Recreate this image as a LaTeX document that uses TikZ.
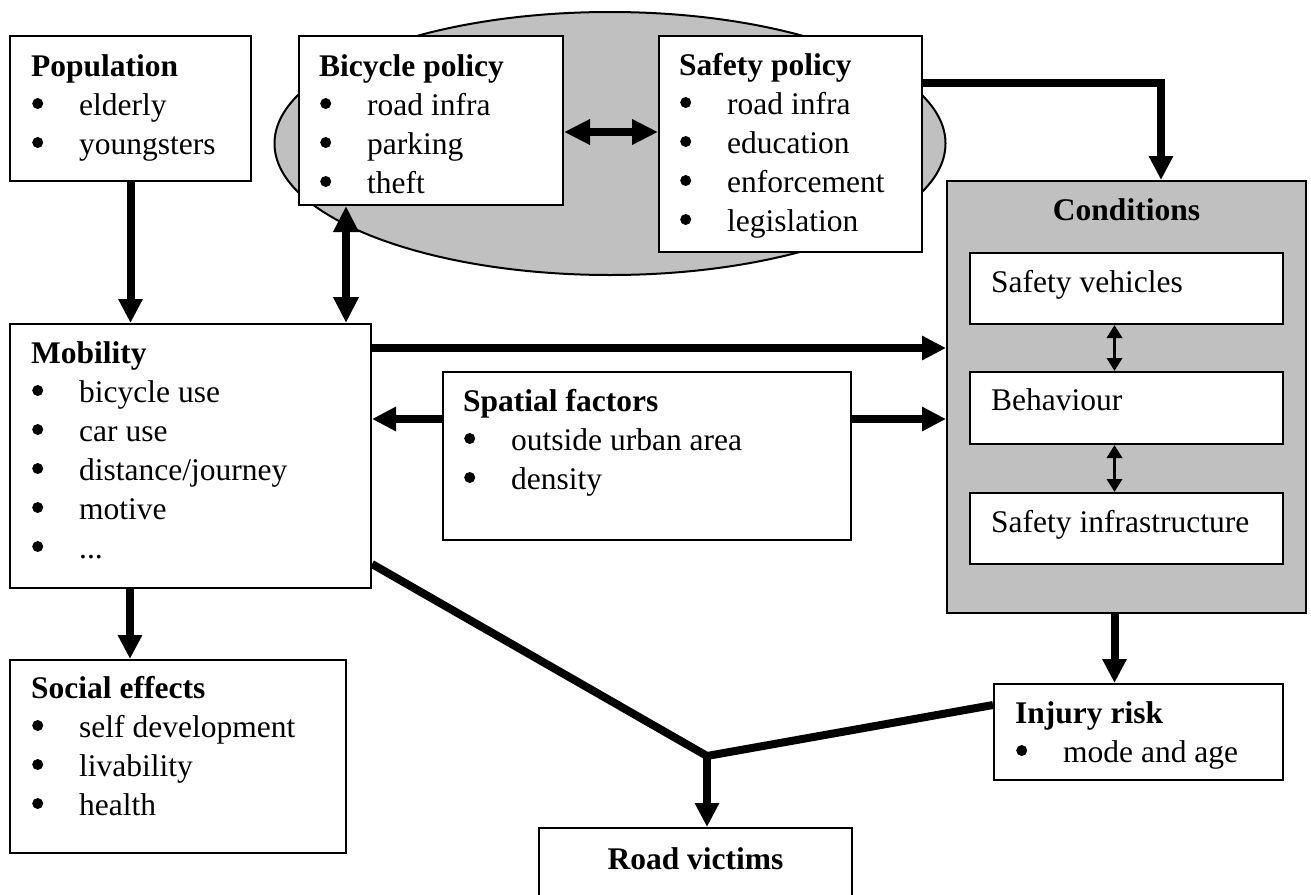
\documentclass[tikz,border=0pt]{standalone}
\usepackage{fontspec}
\setmainfont{Liberation Serif}
\usetikzlibrary{arrows.meta,shapes.geometric,calc}
\definecolor{grayc}{RGB}{192,192,192}
\newsavebox{\bulbox}
\newcommand{\bl}{\hspace*{1pt}\makebox[47pt][l]{\raisebox{6pt}{\usebox{\bulbox}}}}
\begin{document}
\sbox{\bulbox}{\begin{pgfpicture}\pgfpathcircle{\pgfpointorigin}{5.5pt}\pgfusepath{fill}\end{pgfpicture}}%
\begin{tikzpicture}[x=1pt,y=-1pt,
  font=\fontsize{31.5}{39}\selectfont,
  box/.style={draw, line width=2pt, fill=white, inner sep=0pt, anchor=north west},
  txt/.style={anchor=base west, inner sep=0pt},
  arr/.style={line width=8pt, -{Triangle[width=23pt,length=24pt]}},
  darr/.style={line width=8pt, {Triangle[width=24pt,length=26pt]}-{Triangle[width=24pt,length=26pt]}},
  sarr/.style={line width=3.5pt, {Triangle[width=15pt,length=13pt]}-{Triangle[width=15pt,length=13pt]}},
  ln/.style={line width=8pt}]
\useasboundingbox (0,0) rectangle (1311,894);
\fill[white] (0,0) rectangle (1311,894);

% policy ellipse
\node[ellipse, draw, line width=2pt, fill=grayc, inner sep=0pt, minimum width=671pt, minimum height=263pt] (ell) at (610,143.5) {};

% boxes
\node[box, minimum width=241pt, minimum height=145pt] (pop) at (9,35) {};
\node[box, minimum width=264pt, minimum height=169pt] (bic) at (298,35) {};
\node[box, minimum width=263pt, minimum height=216pt] (saf) at (658,35) {};
\node[box, fill=grayc, minimum width=359pt, minimum height=432pt] (cond) at (946,180) {};
\node[box, minimum width=313pt, minimum height=71pt] (sv) at (969,252) {};
\node[box, minimum width=313pt, minimum height=72pt] (beh) at (969,371) {};
\node[box, minimum width=313pt, minimum height=71pt] (si) at (969,492) {};
\node[box, minimum width=361pt, minimum height=264pt] (mob) at (9,323) {};
\node[box, minimum width=408pt, minimum height=168pt] (spa) at (442,371) {};
\node[box, minimum width=336pt, minimum height=193pt] (soc) at (9,659) {};
\node[box, minimum width=289pt, minimum height=96pt] (inj) at (993,683) {};
\node[box, minimum width=313pt, minimum height=85pt] (rv) at (538,827) {};

% texts
\node[txt] (poptx) at ([shift={(22,41)}]pop.north west) {\begin{tabular}[t]{@{}l@{}}\textbf{Population}\\ \bl elderly\\ \bl youngsters\end{tabular}};
\node[txt] (bictx) at ([shift={(21,41)}]bic.north west) {\begin{tabular}[t]{@{}l@{}}\textbf{Bicycle policy}\\ \bl road infra\\ \bl parking\\ \bl theft\end{tabular}};
\node[txt] (saftx) at ([shift={(21,40)}]saf.north west) {\begin{tabular}[t]{@{}l@{}}\textbf{Safety policy}\\ \bl road infra\\ \bl education\\ \bl enforcement\\ \bl legislation\end{tabular}};
\node[anchor=base, inner sep=0pt] (condtx) at ([yshift=-40pt]cond.north) {\textbf{Conditions}};
\node[txt] (svtx) at ([shift={(22,40)}]sv.north west) {Safety vehicles};
\node[txt] (behtx) at ([shift={(22,39)}]beh.north west) {Behaviour};
\node[txt] (sitx) at ([shift={(22,40)}]si.north west) {Safety infrastructure};
\node[txt] (mobtx) at ([shift={(22,40)}]mob.north west) {\begin{tabular}[t]{@{}l@{}}\textbf{Mobility}\\ \bl bicycle use\\ \bl car use\\ \bl distance/journey\\ \bl motive\\ \bl ...\end{tabular}};
\node[txt] (spatx) at ([shift={(21,40)}]spa.north west) {\begin{tabular}[t]{@{}l@{}}\textbf{Spatial factors}\\ \bl outside urban area\\ \bl density\end{tabular}};
\node[txt] (soctx) at ([shift={(22,39)}]soc.north west) {\begin{tabular}[t]{@{}l@{}}\textbf{Social effects}\\ \bl self development\\ \bl livability\\ \bl health\end{tabular}};
\node[txt] (injtx) at ([shift={(22,40)}]inj.north west) {\begin{tabular}[t]{@{}l@{}}\textbf{Injury risk}\\ \bl mode and age\end{tabular}};
\node[anchor=base, inner sep=0pt] (rvtx) at ([yshift=-42pt]rv.north) {\textbf{Road victims}};

% connectors
\draw[arr] (pop.south) -- (pop.south |- mob.north);
\draw[darr] ([xshift=48pt]bic.south west) -- ([xshift=48pt]bic.south west |- mob.north);
\draw[darr] ([yshift=-97pt]bic.north east) -- ([yshift=-97pt]bic.north east -| saf.west);
\draw[arr, line join=miter] ([yshift=-48pt]saf.north east) -| ([xshift=215pt]cond.north west);
\draw[arr] ([yshift=-25pt]mob.north east) -- ([yshift=-25pt]mob.north east -| cond.west);
\draw[arr] ([yshift=-48pt]spa.north west) -- ([yshift=-48pt]spa.north west -| mob.east);
\draw[arr] ([yshift=-48pt]spa.north east) -- ([yshift=-48pt]spa.north east -| cond.west);
\draw[sarr] ([xshift=-12pt]sv.south) -- ([xshift=-12pt]sv.south |- beh.north);
\draw[sarr] ([xshift=-12pt]beh.south) -- ([xshift=-12pt]beh.south |- si.north);
\draw[arr] ([xshift=-12pt]cond.south) -- ([xshift=-12pt]cond.south |- inj.north);
\draw[arr] ([xshift=121pt]mob.south west) -- ([xshift=121pt]mob.south west |- soc.north);
\coordinate (J) at (707,756);
\draw[ln, line join=miter] ([yshift=25pt]mob.south east) -- (J) -- ([yshift=-22pt]inj.north west);
\draw[arr] ([yshift=4pt]J) -- (J |- rv.north);
\end{tikzpicture}
\end{document}
